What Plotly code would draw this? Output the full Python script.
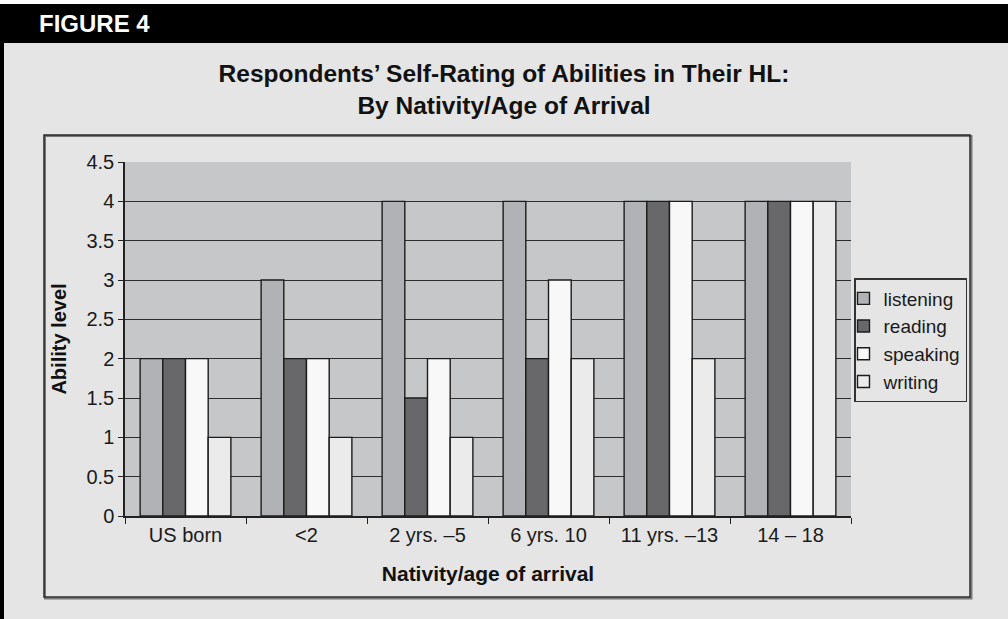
import plotly.graph_objects as go

categories = ["US born", "<2", "2 yrs. –5", "6 yrs. 10", "11 yrs. –13", "14 – 18"]
series_names = ["listening", "reading", "speaking", "writing"]
listening = [2, 3, 4, 4, 4, 4]
reading = [2, 2, 1.5, 2, 4, 4]
speaking = [2, 2, 2, 3, 4, 4]
writing = [1, 1, 1, 2, 2, 4]
y_ticks = [0, 0.5, 1, 1.5, 2, 2.5, 3, 3.5, 4, 4.5]
y_ticklabels = ["0", "0.5", "1", "1.5", "2", "2.5", "3", "3.5", "4", "4.5"]

colors = ["#b1b2b5", "#68686b", "#f8f8f8", "#ebebeb"]
FONT = "Arial, Liberation Sans, sans-serif"

W, H = 1008, 619
L, R, T, B = 125, 851, 162, 516  # plot area in pixels


def px(x):
    return (x - L) / (R - L)


def py(y):
    return (B - y) / (B - T)


fig = go.Figure()
for name, vals, col in zip(series_names, [listening, reading, speaking, writing], colors):
    fig.add_trace(go.Bar(
        x=categories, y=vals, name=name,
        marker=dict(color=col, line=dict(color="#1c1c1c", width=1.4)),
    ))

shapes = [
    # white strip at the very top
    dict(type="rect", xref="paper", yref="paper", x0=px(-2), x1=px(W + 2), y0=py(4), y1=py(-2),
         fillcolor="white", line=dict(width=0), layer="below"),
    # black header bar
    dict(type="rect", xref="paper", yref="paper", x0=px(-2), x1=px(W + 2), y0=py(43), y1=py(4),
         fillcolor="black", line=dict(width=0), layer="below"),
    # left black border
    dict(type="rect", xref="paper", yref="paper", x0=px(-2), x1=px(4), y0=py(H + 2), y1=py(43),
         fillcolor="black", line=dict(width=0), layer="below"),
    # chart frame shadow
    dict(type="rect", xref="paper", yref="paper", x0=px(45), x1=px(971.5), y0=py(598.5), y1=py(136),
         fillcolor="rgba(0,0,0,0)", line=dict(color="#777777", width=2), layer="below"),
    # chart frame
    dict(type="rect", xref="paper", yref="paper", x0=px(44), x1=px(970), y0=py(597), y1=py(135),
         fillcolor="rgba(0,0,0,0)", line=dict(color="#2a2a2a", width=1.5), layer="below"),
]

fig.update_layout(
    width=W, height=H,
    margin=dict(l=L, r=W - R, t=T, b=H - B),
    paper_bgcolor="#e5e5e5",
    plot_bgcolor="#c6c7c9",
    barmode="group", bargap=0.25, bargroupgap=0,
    font=dict(family=FONT, color="#1a1a1a", size=20),
    title=dict(
        text="Respondents’ Self-Rating of Abilities in Their HL:<br>By Nativity/Age of Arrival",
        x=0.5, xref="container", xanchor="center",
        y=1 - 82 / H, yref="container", yanchor="middle",
        font=dict(family=FONT, size=24.5, color="#111111", weight="bold"),
    ),
    xaxis=dict(
        tickson="boundaries", ticks="outside", ticklen=6, tickcolor="#222", tickwidth=1,
        showline=True, linecolor="#222", linewidth=1.5,
        showgrid=False,
        tickfont=dict(size=20, color="#1a1a1a"),
        title=dict(text="Nativity/age of arrival", standoff=22,
                   font=dict(size=21, weight="bold", color="#111111")),
    ),
    yaxis=dict(
        range=[0, 4.5], tickvals=y_ticks, ticktext=y_ticklabels,
        ticks="outside", ticklen=5, tickcolor="#222", tickwidth=1,
        showline=True, linecolor="#222", linewidth=1.5,
        showgrid=True, gridcolor="#2e2e2e", gridwidth=1.2,
        zeroline=False,
        tickfont=dict(size=20, color="#1a1a1a"),
        title=dict(text="Ability level", standoff=14,
                   font=dict(size=20, weight="bold", color="#111111")),
    ),
    legend=dict(
        x=px(967), xanchor="right", y=py(278), yanchor="top",
        bgcolor="#e5e5e5", bordercolor="#333", borderwidth=1.5,
        font=dict(size=19, color="#1a1a1a"),
        indentation=-12, tracegroupgap=0,
    ),
    shapes=shapes,
    annotations=[
        dict(text="FIGURE 4", xref="paper", yref="paper", x=px(37), y=py(24),
             xanchor="left", yanchor="middle", showarrow=False,
             font=dict(family=FONT, size=24, color="white", weight="bold")),
    ],
)

fig.write_html("out.html", config={"displayModeBar": False},
               post_script="document.body.style.margin='0';")
